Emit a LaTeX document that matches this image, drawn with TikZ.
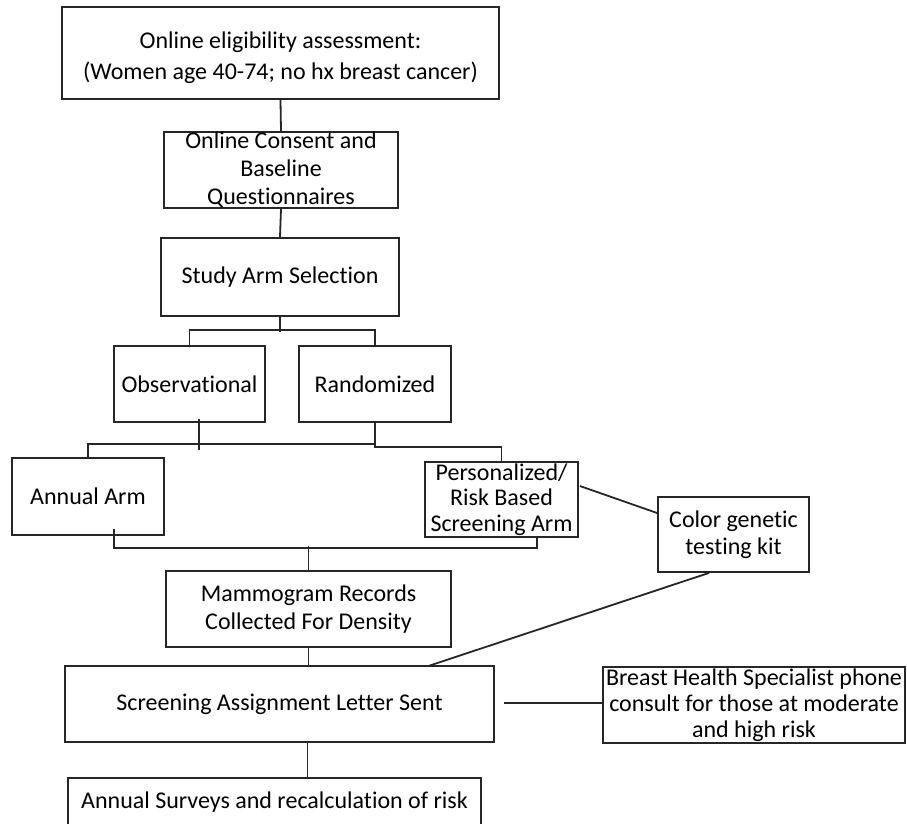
\documentclass[tikz,border=0pt]{standalone}
\usepackage{fontspec}
\setmainfont{Carlito}[Ligatures=NoCommon]
\usetikzlibrary{calc}

\tikzset{
	box/.style={draw=black!85, line width=1.8pt, align=center, inner sep=0pt,
		font=\fontsize{24}{28}\selectfont, text=black},
	link/.style={draw=black!85, line width=1.8pt},
}

\begin{document}
\begin{tikzpicture}[x=1pt,y=-1pt]
		
		\useasboundingbox (0,0) rectangle (907,823);
		\clip (0,0) rectangle (907,823);
		
		% Enrolment steps
		\node[box, minimum width=437pt, minimum height=92pt, font=\fontsize{24}{31}\selectfont]
		(elig) at (280.5,53) {\rule{0pt}{27pt}Online eligibility assessment:\\(Women age 40-74; no hx breast cancer)};
		\node[box, minimum width=234pt, minimum height=76pt] (consent) at (281,170)
		{Online Consent and\\Baseline\\Questionnaires};
		\node[box, minimum width=238pt, minimum height=78pt] (study) at (280,277) {Study Arm Selection};
		
		% Study arms
		\node[box, minimum width=151pt, minimum height=76pt] (obs) at (189.5,384) {Observational};
		\node[box, minimum width=152pt, minimum height=76pt] (rand) at (375,384) {Randomized};
		\node[box, minimum width=152pt, minimum height=77pt] (annual) at (88,496.5) {Annual Arm};
		\node[box, minimum width=153pt, minimum height=75pt, font=\fontsize{24}{25.5}\selectfont]
		(pers) at (501.5,499.5) {Personalized/\\Risk Based\\Screening Arm};
		\node[box, minimum width=151pt, minimum height=75pt, font=\fontsize{24}{27}\selectfont]
		(color) at (733.5,534.5) {Color genetic\\testing kit};
		
		% Follow-up
		\node[box, minimum width=285pt, minimum height=76pt] (mammo) at (308.5,609)
		{Mammogram Records\\Collected For Density};
		\node[box, minimum width=429pt, minimum height=76pt] (letter) at (279.5,704)
		{Screening Assignment Letter Sent};
		\node[box, minimum width=302pt, minimum height=76pt, font=\fontsize{24}{26}\selectfont]
		(bhs) at (754,705) {Breast Health Specialist phone\\consult for those at moderate\\and high risk};
		\node[box, minimum width=413pt, minimum height=76pt] (surveys) at (274.5,816)
		{\rule{0pt}{22pt}Annual Surveys and recalculation of risk\\ \strut};
		
		% Connectors
		\draw[link] (elig.south) -- (consent.north);
		\draw[link] (consent.south) -- (study.north);
		\draw[link] (study.south) -- ++(0,15);
		\draw[link] (obs.north) -- ++(0,-15) -| (rand.north);
		\draw[link] ($(obs.south)+(9.5,-4)$) -- ++(0,31);
		\draw[link] (rand.south) -- ++(0,21) -| (annual.north);
		\draw[link] (rand.south) -- ++(0,24) -| (pers.north);
		\draw[link] ($(annual.south)+(26,-7)$) |- ($(pers.south)+(35.5,10)$) -- ++(0,-10);
		\draw[link] (mammo.north) -- ++(0,-24);
		\draw[link] (mammo.south) -- (mammo.south |- letter.north);
		\draw[link] ($(pers.east)+(1,-13.5)$) -- ($(color.west)+(0,-21.5)$);
		\draw[link] ($(color.south)+(-24.5,0)$) -- ($(letter.north)+(148.5,1)$);
		\draw[link] ($(letter.east)+(9,-1)$) coordinate (lx) -- (lx -| bhs.west);
		\draw[link] ($(letter.south)+(28,0)$) coordinate (sx) -- (sx |- surveys.north);
		
\end{tikzpicture}
\end{document}
